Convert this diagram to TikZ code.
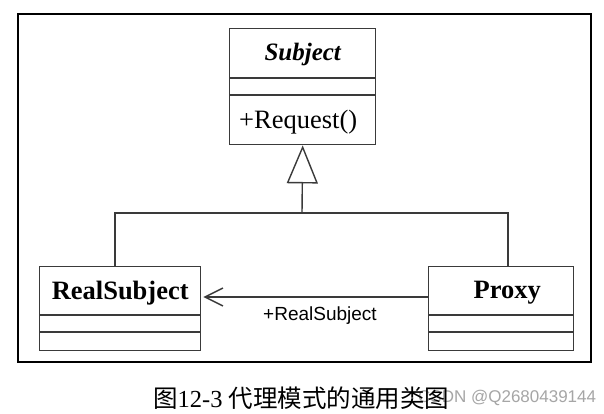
\documentclass[tikz,border=0pt]{standalone}
\usepackage{fontspec}
\setmainfont{Liberation Serif}
\newfontfamily\cjk{Noto Sans CJK SC}
\newfontfamily\arialf{Liberation Sans}
\usetikzlibrary{arrows.meta,calc}
\definecolor{ln}{HTML}{3A3A3A}
\tikzset{
  classbox/.style={draw=ln, line width=1.4pt, rectangle, inner sep=0pt, anchor=north west},
  divider/.style={draw=ln, line width=1.4pt},
  conn/.style={draw=ln, line width=1.4pt},
  cname/.style={inner sep=0pt, font=\fontsize{26.5}{30}\selectfont\bfseries},
}
\begin{document}
\begin{tikzpicture}[x=1pt,y=-1pt]
\useasboundingbox (0,0) rectangle (604,414);
\fill[white] (0,0) rectangle (604,414);
% outer frame
\draw[line width=1.8pt, black] (18,14) rectangle (591,362);
% Subject
\node[classbox, minimum width=146pt, minimum height=116pt] (subj) at (229,28) {};
\draw[divider] ($(subj.north west)+(0,50)$) -- ($(subj.north east)+(0,50)$);
\draw[divider] ($(subj.north west)+(0,67)$) -- ($(subj.north east)+(0,67)$);
\node[cname, font=\fontsize{25}{28}\selectfont\bfseries\itshape] (subjname) at ($(subj.north)+(0,26)$) {Subject};
\node[inner sep=0pt, anchor=west, font=\fontsize{26.5}{30}\selectfont] (req) at ($(subj.north west)+(10,94)$) {+Request()};
% RealSubject
\node[classbox, minimum width=161pt, minimum height=84pt] (rs) at (39,266) {};
\draw[divider] ($(rs.north west)+(0,49)$) -- ($(rs.north east)+(0,49)$);
\draw[divider] ($(rs.north west)+(0,66)$) -- ($(rs.north east)+(0,66)$);
\node[cname] (rsname) at ($(rs.north)+(0,27)$) {RealSubject};
% Proxy
\node[classbox, minimum width=145pt, minimum height=84pt] (px) at (428,266) {};
\draw[divider] ($(px.north west)+(0,49)$) -- ($(px.north east)+(0,49)$);
\draw[divider] ($(px.north west)+(0,66)$) -- ($(px.north east)+(0,66)$);
\node[cname] (pxname) at ($(px.north)+(6,27)$) {Proxy};
% generalization
\coordinate (junc) at (302,213);
\coordinate (rstop) at (115,266);
\coordinate (pxtop) at (508,266);
\draw[conn] (rstop) |- (junc) -| (pxtop);
\draw[conn, -{Triangle[open, length=38pt, width=31pt, line width=1.4pt]}] (junc) -- (subj.south);
% association
\coordinate (as1) at ($(px.north west)+(0,31)$);
\coordinate (as2) at ($(rs.north east)+(2,31)$);
\draw[conn, -{Straight Barb[length=18pt, width=18pt, line width=1.4pt]}] (as1) -- (as2);
\node[inner sep=0pt, font=\arialf\fontsize{19}{22}\selectfont] (role) at (320,316) {+RealSubject};
% watermark
\node[inner sep=0pt, anchor=west, text=gray!70, font=\arialf\fontsize{17}{20}\selectfont] (wm) at (418,398) {CSDN @Q2680439144};
% caption
\node[inner sep=0pt, anchor=west, font=\fontsize{24.5}{28}\selectfont] (cap) at (153,398) {{\cjk 图}12-3 {\cjk 代理模式的通用类图}};
\end{tikzpicture}
\end{document}
